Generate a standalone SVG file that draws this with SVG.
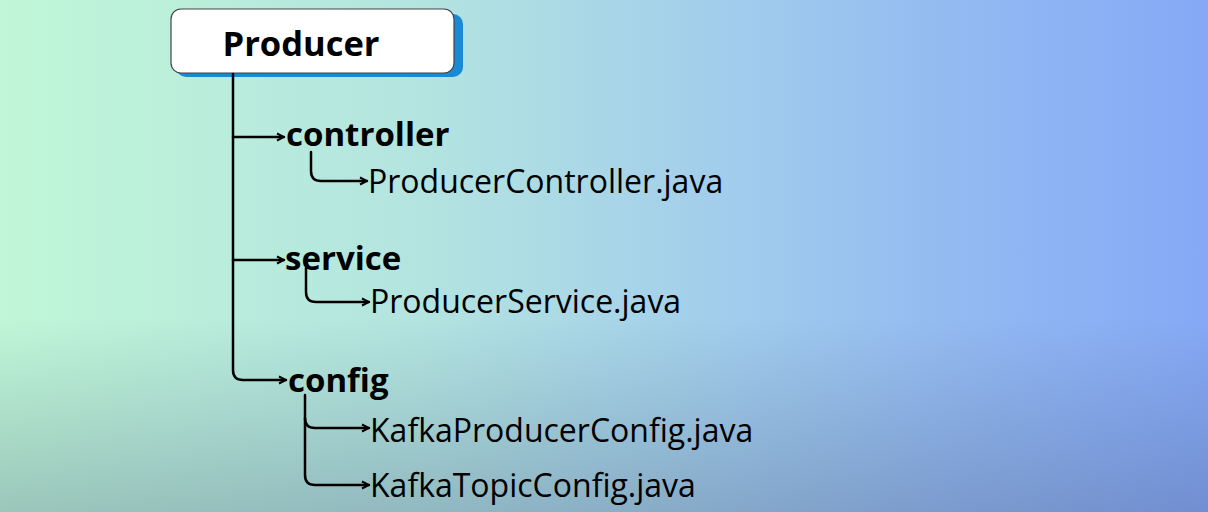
<svg xmlns="http://www.w3.org/2000/svg" width="1208" height="512" viewBox="0 0 1208 512">
<defs>
<linearGradient id="bgH" x1="0" y1="0" x2="1" y2="0">
<stop offset="0" stop-color="#c0f7d7"/>
<stop offset="0.35" stop-color="#b3e4e0"/>
<stop offset="0.6" stop-color="#a2cdec"/>
<stop offset="0.8" stop-color="#93b9f2"/>
<stop offset="1" stop-color="#86a9f6"/>
</linearGradient>
<linearGradient id="bgV" x1="0" y1="0" x2="0" y2="1">
<stop offset="0" stop-color="#3a4a70" stop-opacity="0"/>
<stop offset="0.62" stop-color="#3a4a70" stop-opacity="0"/>
<stop offset="1" stop-color="#3a4a70" stop-opacity="0.28"/>
</linearGradient>
<marker id="arr" viewBox="0 0 10 10" refX="9" refY="5" markerWidth="10" markerHeight="10" markerUnits="userSpaceOnUse" orient="auto">
<path d="M2,1.5 L9,5 L2,8.5" fill="none" stroke="#000" stroke-width="2"/>
</marker>
</defs>
<style>
.ln{fill:none;stroke:#000;stroke-width:2.5;stroke-linecap:round;stroke-linejoin:round}
.dir{font-family:"Open Sans","Liberation Sans",sans-serif;font-weight:700;font-size:33px;fill:#000}
.file{font-family:"Open Sans","Liberation Sans",sans-serif;font-weight:400;font-size:32px;fill:#000}
</style>
<rect width="1208" height="512" fill="url(#bgH)"/>
<rect width="1208" height="512" fill="url(#bgV)"/>
<g id="producer">
<rect x="176" y="14" width="287" height="63" rx="10" fill="#1a8ad4"/>
<rect x="171" y="9" width="283" height="64" rx="10" fill="#fff" stroke="#444" stroke-width="1.2"/>
<text x="301" y="56" text-anchor="middle" font-family="Open Sans, Liberation Sans, sans-serif" font-weight="700" font-size="34.5" fill="#000">Producer</text>
</g>
<g id="connectors">
<path class="ln" d="M233,74 V370 Q233,380 243,380 H286" marker-end="url(#arr)"/>
<path class="ln" d="M233,137 H284" marker-end="url(#arr)"/>
<path class="ln" d="M233,260 H284" marker-end="url(#arr)"/>
<path class="ln" d="M311,152 V171 Q311,181 321,181 H367" marker-end="url(#arr)"/>
<path class="ln" d="M306,268 V292 Q306,302 316,302 H369" marker-end="url(#arr)"/>
<path class="ln" d="M305,395 V475 Q305,485 315,485 H369" marker-end="url(#arr)"/>
<path class="ln" d="M305,418 Q305,428 315,428 H369" marker-end="url(#arr)"/>
</g>
<g id="controller"><text class="dir" x="286" y="146">controller</text></g>
<g id="service"><text class="dir" x="285" y="270">service</text></g>
<g id="config"><text class="dir" x="288" y="392">config</text></g>
<g id="producerController"><text class="file" x="368" y="193">ProducerController.java</text></g>
<g id="producerService"><text class="file" x="370" y="313">ProducerService.java</text></g>
<g id="kafkaProducerConfig"><text class="file" x="370" y="442">KafkaProducerConfig.java</text></g>
<g id="kafkaTopicConfig"><text class="file" x="370" y="497">KafkaTopicConfig.java</text></g>
</svg>
